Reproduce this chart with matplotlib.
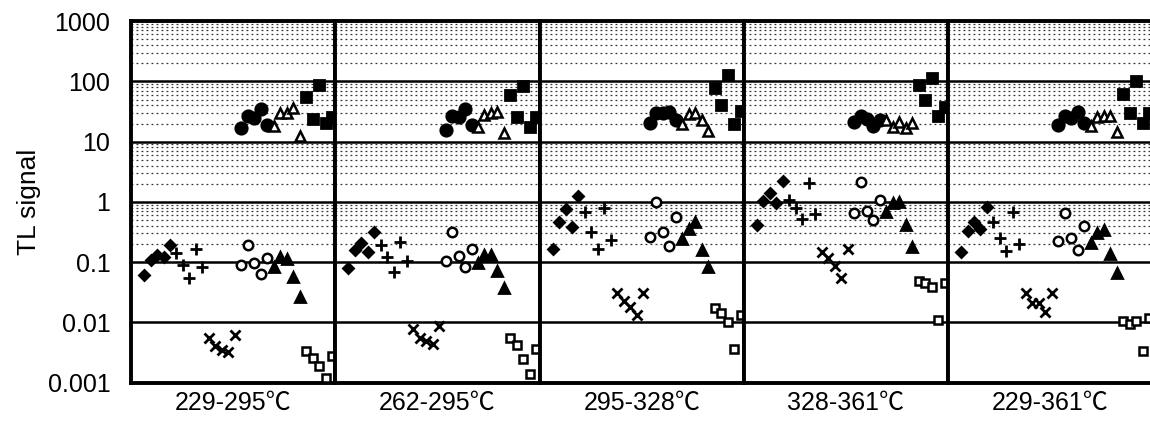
import matplotlib.pyplot as plt
import numpy as np

# 온도 구간 (panel labels)
panels = ['229-295℃', '262-295℃', '295-328℃', '328-361℃', '229-361℃']

# lower group series, 5 points per panel
diamond = [[0.061, 0.109, 0.131, 0.120, 0.193],
           [0.079, 0.159, 0.206, 0.149, 0.313],
           [0.166, 0.470, 0.762, 0.388, 1.25],
           [0.414, 1.05, 1.39, 0.949, 2.25],
           [0.146, 0.333, 0.470, 0.351, 0.812]]
plus = [[0.140, 0.090, 0.054, 0.166, 0.084],
        [0.193, 0.120, 0.068, 0.219, 0.105],
        [0.689, 0.321, 0.166, 0.802, 0.233],
        [1.08, 0.783, 0.514, 2.03, 0.630],
        [0.470, 0.249, 0.155, 0.689, 0.200]]
cross = [[0.0055, 0.0040, 0.0035, 0.0033, 0.0062],
         [0.0077, 0.0055, 0.0049, 0.0044, 0.0086],
         [0.0305, 0.0228, 0.0183, 0.0133, 0.0305],
         [0.149, 0.116, 0.088, 0.054, 0.163],
         [0.0305, 0.0208, 0.0208, 0.0151, 0.0305]]
open_circle = [[0.090, 0.193, 0.098, 0.064, 0.116],
               [0.106, 0.313, 0.127, 0.082, 0.166],
               [0.258, 0.995, 0.321, 0.186, 0.569],
               [0.647, 2.16, 0.716, 0.501, 1.08],
               [0.227, 0.663, 0.249, 0.159, 0.398]]
fill_tri = [[0.084, 0.120, 0.112, 0.056, 0.026],
            [0.096, 0.132, 0.132, 0.072, 0.038],
            [0.243, 0.351, 0.470, 0.159, 0.084],
            [0.671, 0.97, 1.01, 0.414, 0.181],
            [0.211, 0.301, 0.342, 0.137, 0.066]]
open_sq = [[0.0034, 0.0026, 0.0019, 0.0012, 0.0028],
           [0.0055, 0.0042, 0.0025, 0.0014, 0.0037],
           [0.0172, 0.0146, 0.0103, 0.0036, 0.0133],
           [0.0488, 0.0458, 0.0393, 0.011, 0.0458],
           [0.0107, 0.0094, 0.0107, 0.0034, 0.0117]]

# upper group series
fill_circle = [[16.6, 26.6, 24.3, 34.4, 18.8],
               [15.6, 26.6, 25.9, 34.3, 18.8],
               [20.1, 30.2, 29.4, 31.3, 22.8],
               [21.4, 26.6, 23.4, 18.2, 22.8],
               [18.8, 26.6, 24.3, 31.3, 20.6]]
open_tri = [[18.4, 29.4, 29.4, 35.6, 12.4],
            [17.7, 27.6, 29.4, 30.5, 14.1],
            [19.6, 28.7, 29.4, 22.8, 15.2],
            [22.8, 17.7, 21.4, 16.6, 20.6],
            [18.2, 25.3, 26.6, 26.6, 14.6]]
fill_sq = [[55.6, 23.4, 86.9, 20.1, 25.9],
           [59.3, 25.3, 83.6, 17.3, 25.9],
           [76.6, 40.5, 127, 19.6, 32.6],
           [86.9, 49.0, 112, 26.6, 37.1],
           [61.5, 29.4, 101, 20.6, 30.2]]

# (data, start index, marker, size, filled)
series = [(diamond, 1, 'D', 5.6, True),
          (plus, 6, '+', 8.5, True),
          (cross, 11, 'x', 7.5, True),
          (open_circle, 16, 'o', 6.8, False),
          (fill_tri, 21, '^', 7.5, True),
          (open_sq, 26, 's', 6.2, False),
          (fill_circle, 16, 'o', 8.2, True),
          (open_tri, 21, '^', 7, False),
          (fill_sq, 26, 's', 7.5, True)]

plt.rcParams['font.family'] = ['Liberation Sans', 'Noto Sans CJK JP']

fig, axes = plt.subplots(1, 5, figsize=(11.5, 4.22), sharey=True)
plt.subplots_adjust(left=0.114, right=1.002, bottom=0.093, top=0.95, wspace=0)

for i, ax in enumerate(axes):
    ax.set_yscale('log')
    ax.set_ylim(0.001, 1000)
    ax.set_xlim(-1, 30.5)

    # dotted minor lines only from 0.1 upward
    for dec in [0.1, 1, 10, 100]:
        for k in range(2, 10):
            ax.axhline(dec * k, color='0.2', lw=0.9, ls=(0, (1.5, 2.5)), zorder=1)
    for dec in [0.01, 0.1, 1, 10, 100]:
        ax.axhline(dec, color='black', lw=1.8, zorder=2)

    for data, start, mk, ms, filled in series:
        x = np.arange(start, start + 5)
        if filled:
            ax.plot(x, data[i], ls='none', marker=mk, ms=ms, color='black',
                    mew=2, zorder=3)
        else:
            ax.plot(x, data[i], ls='none', marker=mk, ms=ms, mfc='white',
                    mec='black', mew=1.8, zorder=3)

    for s in ax.spines.values():
        s.set_linewidth(2.8)
    ax.set_xticks([])
    ax.tick_params(axis='y', which='both', length=0, labelsize=18, pad=15)
    ax.set_xlabel(panels[i], fontsize=18, labelpad=6)

axes[0].set_yticks([0.001, 0.01, 0.1, 1, 10, 100, 1000])
axes[0].set_yticklabels(['0.001', '0.01', '0.1', '1', '10', '100', '1000'])
axes[0].set_ylabel('TL signal', fontsize=19, labelpad=5)

plt.savefig('out.png', dpi=100)
